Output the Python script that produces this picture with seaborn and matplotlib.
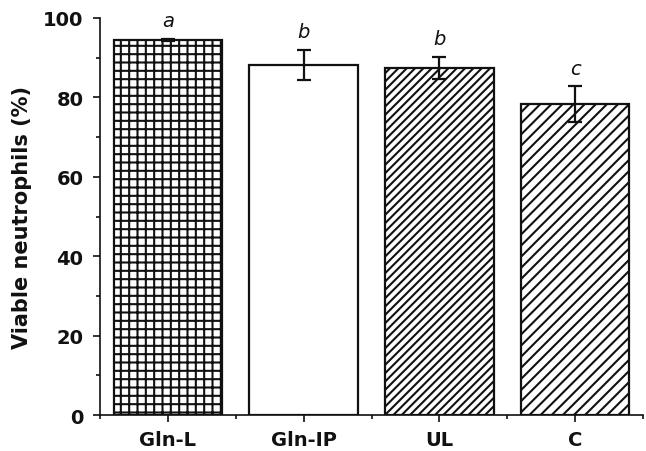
import matplotlib
matplotlib.use("Agg")
import matplotlib.pyplot as plt
import seaborn as sns
import numpy as np
import pandas as pd
from matplotlib.ticker import MultipleLocator, FixedLocator

categories = ["Gln-L", "Gln-IP", "UL", "C"]
values = [94.5, 88.2, 87.4, 78.3]
errors = [0.3, 3.7, 2.8, 4.5]
letters = ["a", "b", "b", "c"]
hatches = ["++", "", "////", "///"]

sns.set_theme(style="ticks")
plt.rcParams["font.family"] = ["DejaVu Sans"]
plt.rcParams["hatch.linewidth"] = 1.5
plt.rcParams["hatch.color"] = "#111111"

df = pd.DataFrame({"group": categories, "viable": values})

fig = plt.figure(figsize=(6.46, 4.52), dpi=100)
ax = fig.add_axes([0.1548, 0.0796, 0.8406, 0.8784])

sns.barplot(data=df, x="group", y="viable", order=categories, color="white",
            edgecolor="#111111", linewidth=1.6, width=0.8, errorbar=None, ax=ax)

for patch, h in zip(ax.patches, hatches):
    patch.set_hatch(h)
    patch.set_edgecolor("#111111")

xpos = np.arange(len(categories))
ax.errorbar(xpos, values, yerr=errors, fmt="none", ecolor="#111111",
            elinewidth=1.6, capsize=5, capthick=1.6, zorder=5)

for x, v, e, t in zip(xpos, values, errors, letters):
    ax.text(x, v + e + 2.2, t, ha="center", va="bottom", fontsize=14,
            style="italic", color="#111111")

ax.set_xlim(-0.5, 3.5)
ax.set_ylim(0, 100)
ax.yaxis.set_major_locator(MultipleLocator(20))
ax.yaxis.set_minor_locator(MultipleLocator(10))
ax.xaxis.set_minor_locator(FixedLocator([-0.5, 0.5, 1.5, 2.5, 3.5]))

ax.set_xlabel("")
ax.set_ylabel("Viable neutrophils (%)", fontsize=15, fontweight="bold",
              labelpad=8, color="#111111")
for lab in ax.get_xticklabels() + ax.get_yticklabels():
    lab.set_fontweight("bold")
    lab.set_fontsize(14)
    lab.set_color("#111111")

ax.tick_params(axis="both", which="major", direction="out", length=5, width=1.2,
               color="#111111", pad=7)
ax.tick_params(axis="both", which="minor", direction="out", length=3, width=1.2,
               color="#111111")
ax.tick_params(axis="x", which="major", pad=6)

for s in ["top", "right"]:
    ax.spines[s].set_visible(False)
for s in ["left", "bottom"]:
    ax.spines[s].set_linewidth(1.2)
    ax.spines[s].set_color("#111111")

fig.savefig("out.png", dpi=100)
